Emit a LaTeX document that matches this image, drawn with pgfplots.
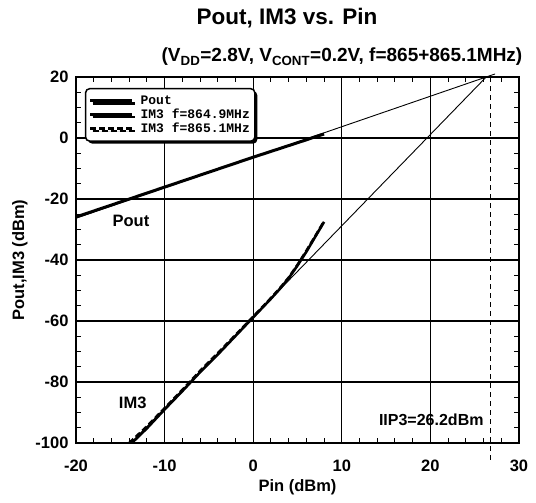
\documentclass[border=0pt]{standalone}
\usepackage{pgfplots}
\pgfplotsset{compat=1.18}
\usepackage{fontspec}
\setmainfont{Liberation Sans}
\setmonofont{Liberation Mono}
\usetikzlibrary{shadows}
\begin{document}
\begin{tikzpicture}[x=1pt,y=1pt]
\begin{axis}[
  scale only axis,
  width=443pt, height=366pt,
  xmin=-20, xmax=30, ymin=-100, ymax=20,
  xtick={-20,-10,...,30}, ytick={-100,-80,...,20},
  minor x tick num=4, minor y tick num=3,
  tick align=inside,
  major tick length=0pt, minor tick length=5pt,
  every tick/.style={black, line width=1pt},
  grid=major,
  major grid style={black, line width=1.2pt},
  axis line style={line width=1.8pt},
  clip=false,
  /pgf/number format/assume math mode=true,
  tick label style={font=\fontsize{16.5}{18}\selectfont\bfseries},
  xticklabel style={yshift=-13pt},
  yticklabel style={xshift=-4pt},
  xlabel={Pin (dBm)}, ylabel={Pout,IM3 (dBm)},
  label style={font=\fontsize{16.5}{18}\selectfont\bfseries},
  xlabel style={yshift=-1pt},
  ylabel style={yshift=1pt},
  legend style={at={(rel axis cs:0.02,0.97)}, anchor=north west,
    draw=black, line width=1.5pt, rounded corners=4pt, fill=white,
    drop shadow={shadow xshift=2.5pt, shadow yshift=-2.5pt, fill=black, opacity=1},
    font=\ttfamily\bfseries\fontsize{13}{13}\selectfont, row sep=-1pt,
    inner xsep=3pt, inner ysep=5pt,
    cells={anchor=west}},
  legend image code/.code={\draw[#1] (0pt,0pt) -- (42pt,0pt);},
]
% Pout measured
\addplot[black, line width=3pt] coordinates {
 (-20,-25.9) (-15,-21.0) (-10,-16.1) (-5,-11.2) (0,-6.3) (2,-4.4) (4,-2.5) (6,-0.6) (7,0.4) (8,1.3)};
\addlegendentry{\hspace{5pt}Pout}
% IM3 f=864.9
\addplot[black, line width=2.6pt] coordinates {
 (-13.7,-100) (-12,-95.2) (-10,-89.0) (-8,-83.0) (-6,-76.8) (-4,-71.0) (-2,-64.9) (0,-58.8) (2,-52.7) (3,-49.5) (4,-46.0) (5,-41.8) (6,-37.3) (7,-32.4) (8,-27.5)};
\addlegendentry{\hspace{5pt}IM3 f=864.9MHz}
% IM3 f=865.1
\addplot[black, line width=2.6pt, dash pattern=on 6pt off 3pt] coordinates {
 (-14.0,-100) (-12,-94.6) (-10,-88.6) (-8,-82.6) (-6,-76.4) (-4,-70.6) (-2,-64.6) (0,-58.6) (2,-52.5) (3,-49.3) (4,-45.8) (5,-41.6) (6,-37.0) (7,-32.2) (8,-27.3)};
\addlegendentry{\hspace{5pt}IM3 f=865.1MHz}
% extrapolation lines
\addplot[black, line width=0.9pt, forget plot] coordinates {(-20,-26.3) (27.3,21.0)};
\addplot[black, line width=0.9pt, forget plot] coordinates {(-13.8,-100) (26.3,20)};
% IIP3 marker
\addplot[black, line width=0.9pt, dash pattern=on 5pt off 4pt, forget plot] coordinates {(26.8,-105.5) (26.8,20)};
\node[font=\fontsize{16.5}{18}\selectfont\bfseries] at (axis cs:-13.8,-27.2) {Pout};
\node[font=\fontsize{16.5}{18}\selectfont\bfseries] at (axis cs:-13.6,-86.9) {IM3};
\node[font=\fontsize{16}{18}\selectfont\bfseries] at (axis cs:20.1,-92.5) {IIP3=26.2dBm};
\node[font=\fontsize{22.5}{26}\selectfont\bfseries] at ([xshift=211pt,yshift=59pt]rel axis cs:0,1) {Pout, IM3 vs. Pin};
\node[font=\fontsize{19}{22}\selectfont\bfseries] at ([xshift=266pt,yshift=20pt]rel axis cs:0,1) {(V\textsubscript{DD}=2.8V, V\textsubscript{CONT}=0.2V, f=865+865.1MHz)};
\end{axis}
\path (-76pt,-60pt) rectangle (460pt,443pt);
\end{tikzpicture}
\end{document}
